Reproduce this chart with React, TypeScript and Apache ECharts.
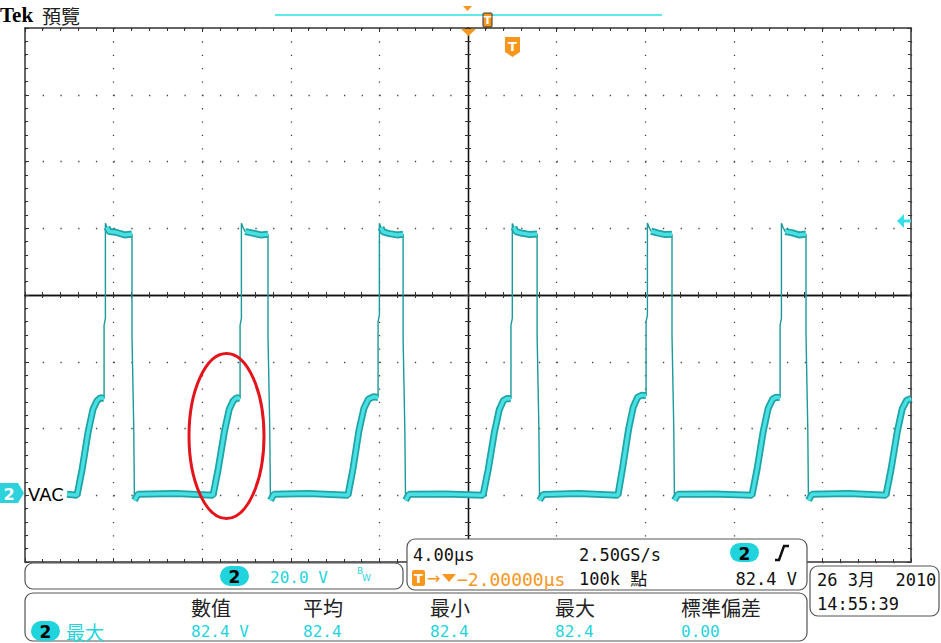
import React, { useEffect, useRef } from "react";
import * as echarts from "echarts";

// ---- data (time in µs relative to screen centre, voltage in V; 20 V/div, 4 µs/div)
const timeRangeUs = [-20, 20];
const voltRange = [-20, 140];
const divRange = [-4, 4];

const traceTimeUs = [
  -18.1, -17.65, -17.42, -17.15, -16.93, -16.75, -16.6, -16.43, -16.43, -16.37, -16.37, -16.3, -16.2, -15.9, -15.5, -15.17, -15.17, -15.09, -15.06, -14.9, -13.2,
  -11.51, -11.28, -11.0, -10.78, -10.6, -10.45, -10.29, -10.29, -10.23, -10.23, -10.16, -10.06, -9.76, -9.36, -9.03, -9.03, -8.95, -8.92, -8.76, -7.2,
  -5.42, -5.19, -4.92, -4.7, -4.5, -4.26, -4.06, -4.06, -4.0, -4.0, -3.93, -3.83, -3.55, -3.2, -2.93, -2.93, -2.85, -2.82, -2.66, -1.0,
  0.68, 0.91, 1.19, 1.41, 1.6, 1.76, 1.94, 1.94, 2.0, 2.0, 2.07, 2.17, 2.45, 2.8, 3.12, 3.12, 3.2, 3.23, 3.39, 5.0,
  6.77, 6.98, 7.25, 7.46, 7.66, 7.86, 8.04, 8.04, 8.1, 8.1, 8.17, 8.27, 8.55, 8.9, 9.21, 9.21, 9.29, 9.32, 9.48, 11.1,
  12.82, 13.05, 13.33, 13.55, 13.75, 13.92, 14.09, 14.09, 14.15, 14.15, 14.22, 14.32, 14.6, 14.95, 15.26, 15.26, 15.34, 15.37, 15.53, 17.2,
  18.87, 19.1, 19.38, 19.6, 19.8, 20.0,
];
const traceVolts = [
  0.3, 0, 7.8, 19, 25.8, 28.3, 29.2, 29, 51, 53, 81.5, 80.3, 79, 78.8, 78, 78.3, 48, 20, -1.5, 0.3, 0.5,
  0, 7.8, 19, 25.8, 28.3, 29.2, 29, 51, 53, 81.5, 80.3, 79, 78.6, 78, 78.2, 48, 20, -1.5, 0.3, 0.5,
  0, 8, 19.5, 26, 28.8, 29.5, 29.3, 52, 54, 81.5, 80.2, 78.9, 78.4, 78, 78.2, 47, 19, -1.5, 0.3, 0.4,
  0, 7.6, 18.8, 25.6, 28.4, 29, 28.9, 51, 53, 81.4, 80.3, 79, 78.5, 78.1, 78.3, 48, 20, -1.5, 0.2, 0.5,
  0, 8.2, 19.8, 26.4, 29.4, 30, 29.8, 52, 54, 81.6, 80.4, 79.1, 78.6, 78.1, 78.2, 48, 20, -1.5, 0.3, 0.4,
  0, 7.8, 19.2, 26, 28.8, 29.4, 29.2, 51, 53, 81.5, 80.3, 79, 78.7, 78, 78.3, 48, 20, -1.5, 0.3, 0.5,
  0, 7.8, 19, 25.8, 28.4, 29,
];

const measureHeaders = ["數值", "平均", "最小", "最大", "標準偏差"];
const measureValues = ["82.4 V", "82.4", "82.4", "82.4", "0.00"];
const measureColX = [191, 303, 430, 555, 681];

const channelScale = "20.0 V";
const timeScale = "4.00µs";
const sampleRate = "2.50GS/s";
const triggerDelay = "−2.00000µs";
const recordLength = "100k 點";
const triggerLevel = "82.4 V";
const dateText = "26 3月  2010";
const timeText = "14:55:39";

const CYAN = "#1fd4dc";
const ORANGE = "#f7961c";
const MONO = '"DejaVu Sans Mono", "Noto Sans CJK TC", monospace';
const CJK = '"Noto Sans CJK TC", "Noto Sans CJK SC", sans-serif';

function txt(x: number, y: number, text: string, size: number, fill: string, family = MONO, extra: any = {}) {
  return {
    type: "text",
    x,
    y,
    z: 110,
    style: {
      text,
      fontSize: size,
      fontFamily: family,
      fill,
      align: extra.align || "left",
      verticalAlign: "middle",
      textAlign: extra.align || "left",
      textVerticalAlign: "middle",
      fontWeight: extra.weight || "normal",
    },
  };
}

function pill(x: number, y: number, w: number, h: number) {
  return [
    { type: "rect", z: 105, shape: { x, y, width: w, height: h, r: h / 2 }, style: { fill: CYAN } },
    txt(x + w / 2, y + h / 2 + 1, "2", 17, "#000", '"DejaVu Sans"', { align: "center", weight: "bold" }),
  ];
}

function panel(x: number, y: number, w: number, h: number) {
  return {
    type: "rect",
    z: 100,
    shape: { x, y, width: w, height: h, r: 8 },
    style: { fill: "#fff", stroke: "#555", lineWidth: 1.2 },
  };
}

export default function App() {
  const ref = useRef<HTMLDivElement>(null);

  useEffect(() => {
    if (!ref.current) return;
    const chart = echarts.init(ref.current, null, { renderer: "svg" });

    const trace: any[] = traceTimeUs.map((t, i) => [t, traceVolts[i]]);
    // band (thick noisy look) only on the slow parts, broken on fast edges
    const band: any[] = [];
    for (let i = 0; i < trace.length; i++) {
      band.push(trace[i]);
      if (i < trace.length - 1) {
        const dt = trace[i + 1][0] - trace[i][0];
        const dv = Math.abs(trace[i + 1][1] - trace[i][1]);
        if (dt < 0.1 || dv / dt > 120) band.push([trace[i][0] + dt / 2, "-"]);
      }
    }

    const borderLine = { show: true, onZero: false, lineStyle: { color: "#333", width: 1.5 } };
    const tick = (inside: boolean, len: number) => ({ show: true, inside, length: len, lineStyle: { color: "#333", width: 1 } });
    const minor = (len: number) => ({ show: true, splitNumber: 5, length: len, lineStyle: { color: "#333", width: 1 } });
    const noLabel = { show: false };

    const xBase = { type: "value", min: timeRangeUs[0], max: timeRangeUs[1], interval: 4, axisLabel: noLabel };
    const yDiv = { type: "value", min: divRange[0], max: divRange[1], interval: 1, axisLabel: noLabel };

    const option: any = {
      animation: false,
      backgroundColor: "#fff",
      grid: { left: 25, top: 28, right: 30, bottom: 81, containLabel: false },
      xAxis: [
        {
          ...xBase,
          position: "bottom",
          axisLine: borderLine,
          axisTick: tick(true, 4),
          minorTick: minor(3),
          splitLine: { show: true, lineStyle: { color: "#444", width: 1.3, type: [1.3, 12.05] } },
        },
        { ...xBase, position: "top", axisLine: borderLine, axisTick: tick(true, 4), minorTick: minor(3), splitLine: { show: false } },
        {
          ...xBase,
          position: "bottom",
          axisLine: { show: true, onZero: true, onZeroAxisIndex: 1, lineStyle: { color: "#111", width: 1.3 } },
          axisTick: tick(true, 3),
          minorTick: minor(3),
          splitLine: { show: false },
        },
        {
          ...xBase,
          position: "bottom",
          axisLine: { show: true, onZero: true, onZeroAxisIndex: 1, lineStyle: { color: "#111", width: 1.3 } },
          axisTick: tick(false, 3),
          minorTick: minor(3),
          splitLine: { show: false },
        },
      ],
      yAxis: [
        {
          type: "value",
          min: voltRange[0],
          max: voltRange[1],
          interval: 20,
          position: "left",
          axisLabel: noLabel,
          axisLine: borderLine,
          axisTick: tick(true, 4),
          minorTick: minor(3),
          splitLine: { show: true, lineStyle: { color: "#444", width: 1.3, type: [1.3, 16.42] } },
        },
        { ...yDiv, position: "right", axisLine: borderLine, axisTick: tick(true, 4), minorTick: minor(3), splitLine: { show: false } },
        {
          ...yDiv,
          position: "left",
          axisLine: { show: true, onZero: true, onZeroAxisIndex: 0, lineStyle: { color: "#111", width: 1.3 } },
          axisTick: tick(true, 3),
          minorTick: minor(3),
          splitLine: { show: false },
        },
        {
          ...yDiv,
          position: "left",
          axisLine: { show: true, onZero: true, onZeroAxisIndex: 0, lineStyle: { color: "#111", width: 1.3 } },
          axisTick: tick(false, 3),
          minorTick: minor(3),
          splitLine: { show: false },
        },
      ],
      series: [
        {
          name: "edges",
          type: "line",
          xAxisIndex: 0,
          yAxisIndex: 0,
          data: trace,
          showSymbol: false,
          symbol: "none",
          z: 2,
          lineStyle: { color: "#1a9a9c", width: 1.4 },
        },
        {
          name: "bandOuter",
          type: "line",
          xAxisIndex: 0,
          yAxisIndex: 0,
          data: band,
          showSymbol: false,
          symbol: "none",
          connectNulls: false,
          z: 3,
          lineStyle: { color: "#1fa3a6", width: 7 },
        },
        {
          name: "bandInner",
          type: "line",
          xAxisIndex: 0,
          yAxisIndex: 0,
          data: band,
          showSymbol: false,
          symbol: "none",
          connectNulls: false,
          z: 4,
          lineStyle: { color: "#48e0e2", width: 3.5 },
        },
      ],
      graphic: [
        // header
        txt(0, 15, "Tek", 21, "#000", '"Liberation Serif", serif', { weight: "bold" }),
        txt(42, 15, "預覽", 19, "#222", CJK),
        { type: "line", z: 105, shape: { x1: 275, y1: 15, x2: 662, y2: 15 }, style: { stroke: "#5ee9ef", lineWidth: 2 } },
        { type: "polygon", z: 106, shape: { points: [[463, 6], [472, 6], [467.5, 11]] }, style: { fill: ORANGE } },
        { type: "rect", z: 106, shape: { x: 483, y: 13, width: 9, height: 14, r: 1 }, style: { fill: ORANGE, stroke: "#333", lineWidth: 1 } },
        txt(487.5, 20.5, "T", 11, "#fff", '"DejaVu Sans"', { align: "center", weight: "bold" }),
        { type: "polygon", z: 106, shape: { points: [[461, 29], [476, 29], [468.5, 36]] }, style: { fill: ORANGE } },
        { type: "polygon", z: 106, shape: { points: [[505, 37], [520, 37], [520, 52], [512.5, 57], [505, 52]] }, style: { fill: ORANGE } },
        txt(512.5, 46, "T", 13, "#fff", '"DejaVu Sans"', { align: "center", weight: "bold" }),
        // trigger level arrow (right)
        {
          type: "polygon",
          z: 106,
          shape: { points: [[897, 221], [904, 214], [904, 219.5], [911, 219.5], [911, 222.5], [904, 222.5], [904, 228]] },
          style: { fill: "#36e0e6" },
        },
        // channel ground marker (left)
        { type: "polygon", z: 106, shape: { points: [[0, 483], [18, 483], [24, 493], [18, 503], [0, 503]] }, style: { fill: "#2ed2dc" } },
        txt(9, 494, "2", 16, "#fff", '"DejaVu Sans"', { align: "center", weight: "bold" }),
        txt(28, 494, "VAC", 18, "#000", '"DejaVu Sans"'),
        // red annotation ellipse
        { type: "ellipse", z: 107, shape: { cx: 226.5, cy: 436, rx: 37.5, ry: 82.5 }, style: { fill: "none", stroke: "#e3141c", lineWidth: 3 } },
        // channel panel
        panel(25, 563, 378, 26),
        ...pill(220, 566, 29, 20),
        txt(270, 577, channelScale, 16, CYAN),
        txt(357, 571, "B", 9, CYAN, '"DejaVu Sans"'),
        txt(362, 578, "W", 9, CYAN, '"DejaVu Sans"'),
        // timebase panel
        panel(407, 539, 400, 51),
        txt(413, 555, timeScale, 17, "#111"),
        txt(579, 555, sampleRate, 17, "#111"),
        ...pill(730, 543, 29, 19),
        { type: "polyline", z: 110, shape: { points: [[775, 560], [779, 560], [784, 546], [789, 546]] }, style: { stroke: "#111", lineWidth: 2.5, fill: "none" } },
        { type: "rect", z: 106, shape: { x: 412, y: 570, width: 13, height: 16, r: 2 }, style: { fill: ORANGE } },
        txt(418.5, 578.5, "T", 13, "#fff", '"DejaVu Sans"', { align: "center", weight: "bold" }),
        txt(427, 578, "→", 16, ORANGE, '"DejaVu Sans"'),
        { type: "polygon", z: 110, shape: { points: [[442, 574], [456, 574], [449, 582]] }, style: { fill: ORANGE } },
        txt(457, 579, triggerDelay, 18, ORANGE),
        txt(579, 579, recordLength, 17, "#111"),
        txt(797, 579, triggerLevel, 17, "#111", MONO, { align: "right" }),
        // date panel
        panel(810, 566, 129, 50),
        txt(817, 580, dateText, 17, "#111"),
        txt(817, 604, timeText, 17, "#111"),
        // measurement panel
        panel(25, 593, 782, 48),
        ...measureHeaders.map((h, i) => txt(measureColX[i], 607, h, 20, "#222", CJK)),
        ...pill(31, 621, 29, 20),
        txt(66, 631, "最大", 19, CYAN, CJK),
        ...measureValues.map((v, i) => txt(measureColX[i], 631, v, 16, CYAN)),
      ],
    };

    chart.setOption(option);
    return () => chart.dispose();
  }, []);

  return <div ref={ref} style={{ position: "fixed", left: 0, top: 0, width: 941, height: 643 }} />;
}
